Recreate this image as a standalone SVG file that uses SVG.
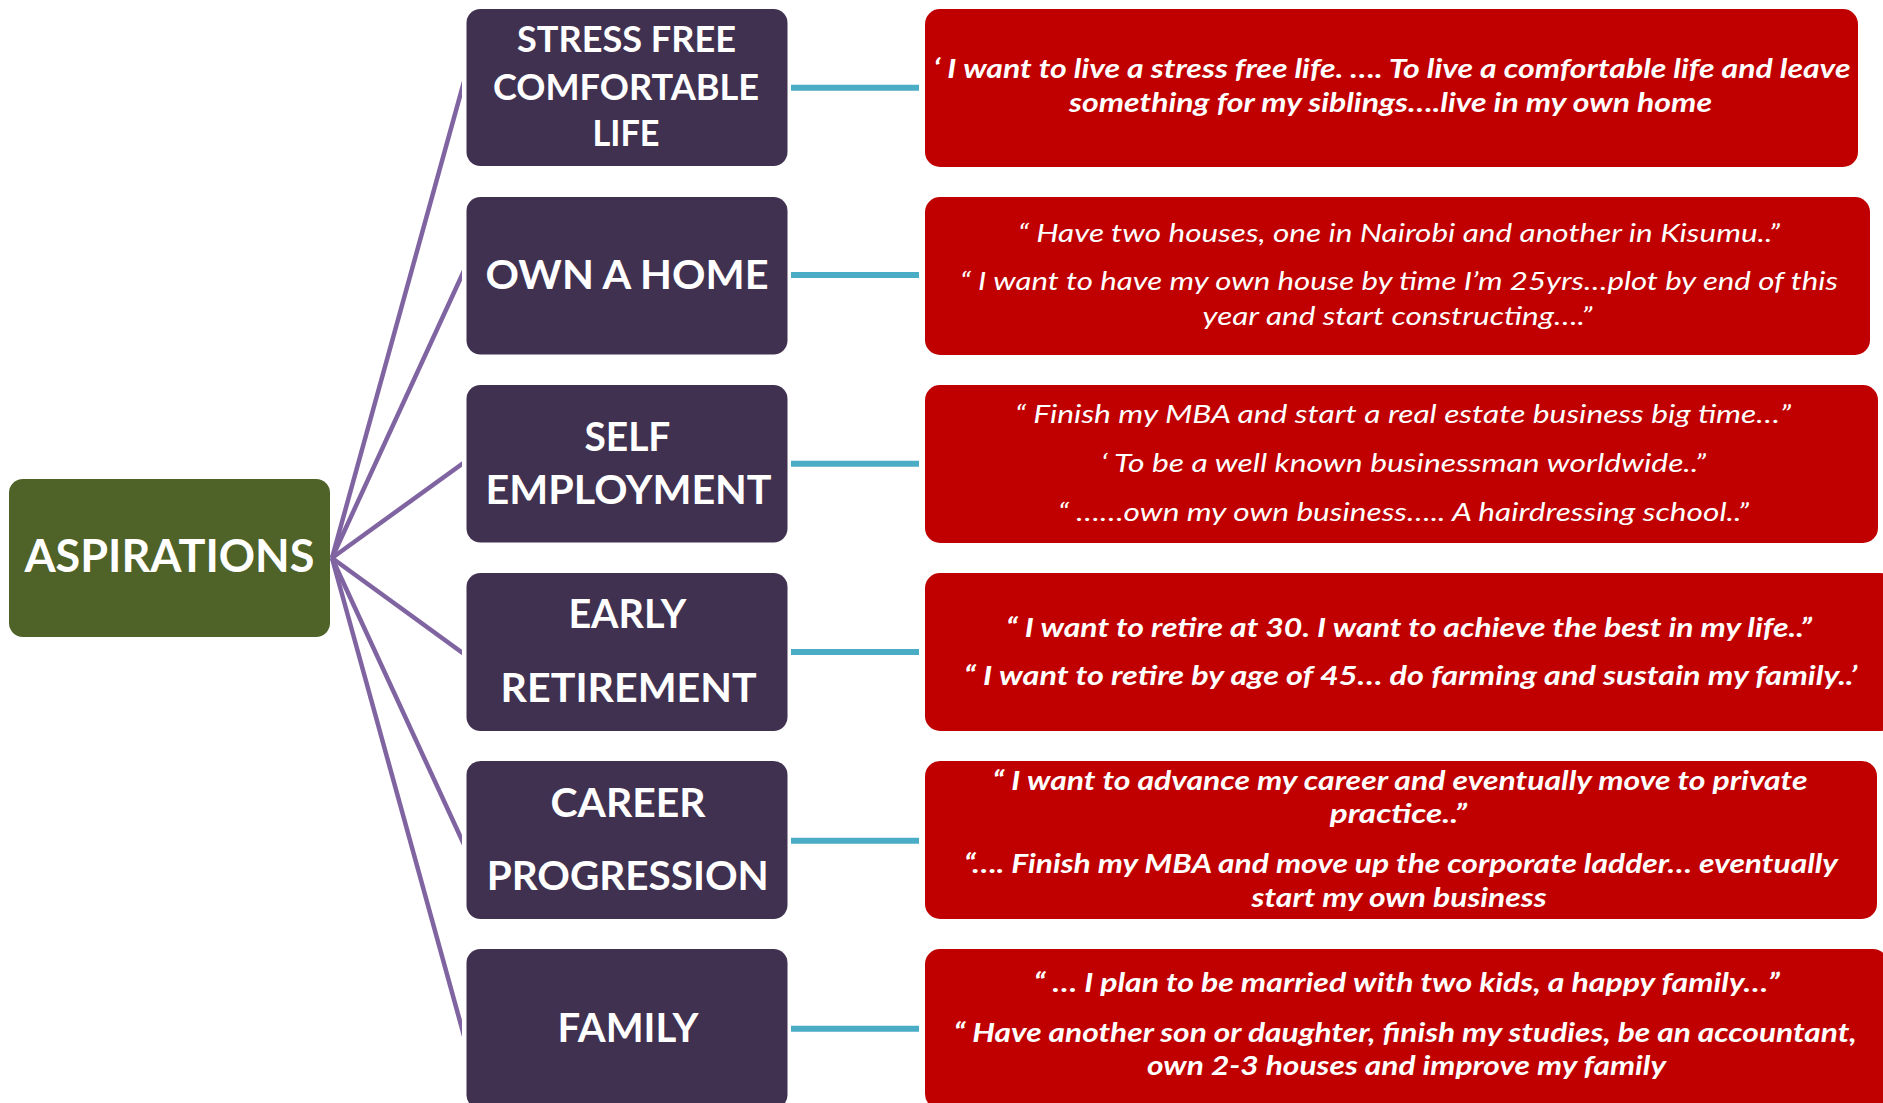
<svg xmlns="http://www.w3.org/2000/svg" width="1883" height="1103" viewBox="0 0 1883 1103">
<style>
.hub{fill:#4F6228}
.cat{fill:#403151}
.quote{fill:#C00000}
.tc{font-family:Lato,"Liberation Sans",sans-serif;font-weight:700;fill:#fff;text-anchor:middle}
.q{font-family:Lato,"Liberation Sans",sans-serif;font-style:italic;font-size:26px;fill:#fff;text-anchor:middle}
.b{font-weight:700}
.spoke{stroke:#8064A2;stroke-width:4.5;fill:none}
.link{stroke:#4BACC6;stroke-width:6;fill:none}
</style>
<defs>
<clipPath id="spokeclip"><rect x="320" y="0" width="142" height="1103"/></clipPath>
</defs>
<g id="connectors">
<g clip-path="url(#spokeclip)">
<line class="spoke" x1="332" y1="558" x2="464" y2="81.5"/>
<line class="spoke" x1="332" y1="558" x2="464" y2="270.7"/>
<line class="spoke" x1="332" y1="558" x2="464" y2="462.5"/>
<line class="spoke" x1="332" y1="558" x2="464" y2="654"/>
<line class="spoke" x1="332" y1="558" x2="464" y2="844.5"/>
<line class="spoke" x1="332" y1="558" x2="464" y2="1035.8"/>
</g>
<line class="link" x1="791" y1="87.7" x2="919" y2="87.7"/>
<line class="link" x1="791" y1="275" x2="919" y2="275"/>
<line class="link" x1="791" y1="463.7" x2="919" y2="463.7"/>
<line class="link" x1="791" y1="652" x2="919" y2="652"/>
<line class="link" x1="791" y1="840.7" x2="919" y2="840.7"/>
<line class="link" x1="791" y1="1028.7" x2="919" y2="1028.7"/>
</g>
<g id="aspirations">
<rect class="hub" x="9" y="479" width="321" height="158" rx="14"/>
<text class="tc" x="169.4" y="572.3" font-size="46" textLength="290" lengthAdjust="spacingAndGlyphs">ASPIRATIONS</text>
</g>
<g id="stress-free">
<rect class="cat" x="466.5" y="9" width="321" height="157" rx="14"/>
<text class="tc" x="626.5" y="51.7" font-size="36" textLength="219" lengthAdjust="spacingAndGlyphs">STRESS FREE</text>
<text class="tc" x="626" y="100" font-size="36" textLength="266" lengthAdjust="spacingAndGlyphs">COMFORTABLE</text>
<text class="tc" x="626" y="145.7" font-size="36" textLength="67" lengthAdjust="spacingAndGlyphs">LIFE</text>
</g>
<g id="own-home">
<rect class="cat" x="466.5" y="197" width="321" height="157.5" rx="14"/>
<text class="tc" x="627" y="289.3" font-size="41" textLength="283" lengthAdjust="spacingAndGlyphs">OWN A HOME</text>
</g>
<g id="self-employment">
<rect class="cat" x="466.5" y="385" width="321" height="157.5" rx="14"/>
<text class="tc" x="627.4" y="450.7" font-size="41" textLength="86" lengthAdjust="spacingAndGlyphs">SELF</text>
<text class="tc" x="628.6" y="504" font-size="41" textLength="286" lengthAdjust="spacingAndGlyphs">EMPLOYMENT</text>
</g>
<g id="early-retirement">
<rect class="cat" x="466.5" y="573" width="321" height="158" rx="14"/>
<text class="tc" x="627.4" y="628.3" font-size="41" textLength="118" lengthAdjust="spacingAndGlyphs">EARLY</text>
<text class="tc" x="628.6" y="701.7" font-size="41" textLength="256" lengthAdjust="spacingAndGlyphs">RETIREMENT</text>
</g>
<g id="career">
<rect class="cat" x="466.5" y="761" width="321" height="158" rx="14"/>
<text class="tc" x="628" y="816.7" font-size="41" textLength="155" lengthAdjust="spacingAndGlyphs">CAREER</text>
<text class="tc" x="627.7" y="890" font-size="41" textLength="282" lengthAdjust="spacingAndGlyphs">PROGRESSION</text>
</g>
<g id="family">
<rect class="cat" x="466.5" y="949" width="321" height="160" rx="14"/>
<text class="tc" x="628" y="1041.7" font-size="41" textLength="141" lengthAdjust="spacingAndGlyphs">FAMILY</text>
</g>
<g id="quote-stress-free">
<rect class="quote" x="925" y="9" width="933" height="158" rx="15"/>
<text class="q b" x="1392" y="78" textLength="917" lengthAdjust="spacingAndGlyphs">‘ I want to live a stress free life. …. To live a comfortable life and leave</text>
<text class="q b" x="1390.5" y="112" textLength="643" lengthAdjust="spacingAndGlyphs">something for my siblings….live in my own home</text>
</g>
<g id="quote-own-home">
<rect class="quote" x="925" y="197" width="945" height="158" rx="15"/>
<text class="q" x="1399" y="242.3" textLength="762" lengthAdjust="spacingAndGlyphs">“ Have two houses, one in Nairobi and another in Kisumu..”</text>
<text class="q" x="1399" y="290" textLength="878" lengthAdjust="spacingAndGlyphs">“ I want to have my own house by time I’m 25yrs…plot by end of this</text>
<text class="q" x="1397.5" y="325" textLength="390" lengthAdjust="spacingAndGlyphs">year and start constructing….”</text>
</g>
<g id="quote-self-employment">
<rect class="quote" x="925" y="385" width="953" height="158" rx="15"/>
<text class="q" x="1403" y="423.3" textLength="776" lengthAdjust="spacingAndGlyphs">“ Finish my MBA and start  a real estate business big time…”</text>
<text class="q" x="1403.5" y="471.7" textLength="605" lengthAdjust="spacingAndGlyphs">‘ To be a well known businessman worldwide..”</text>
<text class="q" x="1403.5" y="520.7" textLength="691" lengthAdjust="spacingAndGlyphs">“ ……own my own business….. A hairdressing school..”</text>
</g>
<g id="quote-early-retirement">
<rect class="quote" x="925" y="573" width="970" height="158" rx="15"/>
<text class="q b" x="1409" y="636.7" textLength="806" lengthAdjust="spacingAndGlyphs">“ I want to retire at 30. I want to achieve the best in my life..”</text>
<text class="q b" x="1410.5" y="685" textLength="893" lengthAdjust="spacingAndGlyphs">“ I want to retire by age of 45…  do farming and sustain my family..’</text>
</g>
<g id="quote-career">
<rect class="quote" x="925" y="761" width="952" height="158" rx="15"/>
<text class="q b" x="1400" y="790" textLength="815" lengthAdjust="spacingAndGlyphs">“ I want to advance my career and eventually move to private</text>
<text class="q b" x="1398.3" y="823.3" textLength="137" lengthAdjust="spacingAndGlyphs">practice..”</text>
<text class="q b" x="1401" y="873.3" textLength="874" lengthAdjust="spacingAndGlyphs">“…. Finish my MBA and move up the corporate ladder… eventually</text>
<text class="q b" x="1399.1" y="906.7" textLength="295" lengthAdjust="spacingAndGlyphs">start my own business</text>
</g>
<g id="quote-family">
<rect class="quote" x="925" y="949" width="963" height="160" rx="15"/>
<text class="q b" x="1406.8" y="991.7" textLength="746" lengthAdjust="spacingAndGlyphs">“ … I plan to be married with two kids, a happy family…”</text>
<text class="q b" x="1405.3" y="1041.7" textLength="903" lengthAdjust="spacingAndGlyphs">“ Have another son or daughter, finish my studies, be an accountant,</text>
<text class="q b" x="1406.5" y="1075" textLength="519" lengthAdjust="spacingAndGlyphs">own 2-3 houses and improve my family</text>
</g>
</svg>
